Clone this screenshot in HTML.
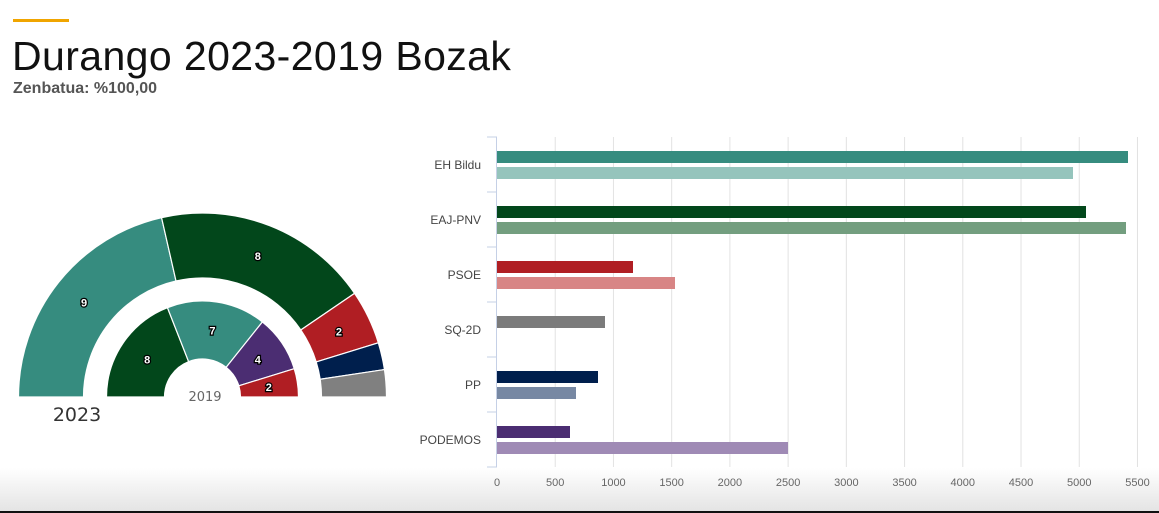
<!DOCTYPE html>
<html><head><meta charset="utf-8"><style>
body{margin:0;width:1159px;height:513px;overflow:hidden;background:#fff;font-family:"Liberation Sans",sans-serif;position:relative}
.bar{position:absolute;height:12px}
</style></head><body>
<div style="position:absolute;left:13px;top:19px;width:56px;height:3px;background:#f0a500"></div>
<div style="position:absolute;left:12px;top:33px;font-size:41px;color:#111;letter-spacing:0.4px">Durango 2023-2019 Bozak</div>
<div style="position:absolute;left:13px;top:80px;font-size:16px;font-weight:bold;color:#555">Zenbatua: %100,00</div>
<div style="position:absolute;left:0;top:468px;width:1159px;height:43px;background:linear-gradient(#fff,#e4e4e4)"></div>
<div style="position:absolute;left:0;top:511px;width:1159px;height:2px;background:#111"></div>
<svg width="1159" height="513" style="position:absolute;left:0;top:0" font-family="Liberation Sans, sans-serif">
<g id="donut" stroke="#fff" stroke-width="1.2"></g>
<text x="77" y="421" font-size="19" fill="#333" text-anchor="middle" font-family="DejaVu Sans, sans-serif">2023</text>
<text x="205" y="401" font-size="13" fill="#666" text-anchor="middle" font-family="DejaVu Sans, sans-serif">2019</text>
<g id="grid"></g>
</svg>
<div id="bars"></div>
<script>
const cx=202.5,cy=397;
function arc(r0,r1,a0,a1,col){const p=a=>[Math.cos(Math.PI-a),-Math.sin(Math.PI-a)];
const [x0,y0]=p(a0),[x1,y1]=p(a1);
return `<path fill="${col}" d="M${cx+r1*x0} ${cy+r1*y0} A${r1} ${r1} 0 0 1 ${cx+r1*x1} ${cy+r1*y1} L${cx+r0*x1} ${cy+r0*y1} A${r0} ${r0} 0 0 0 ${cx+r0*x0} ${cy+r0*y0}Z"/>`;}
function lab(r,a,t){const x=cx+r*Math.cos(Math.PI-a),y=cy-r*Math.sin(Math.PI-a);
return `<text x="${x}" y="${y+4}" font-size="11" font-weight="bold" fill="#fff" stroke="#000" stroke-width="2.5" paint-order="stroke" text-anchor="middle">${t}</text>`;}
let s='';const u=Math.PI/21;
function ring(r0,r1,d){let a=0;d.forEach(([n,c])=>{s+=arc(r0,r1,a,a+n*u,c);if(c!='#001f4d'&&c!='#808080')s+=lab((r0+r1)/2,a+n*u/2,n);a+=n*u;});}
ring(119,184,[[9,'#368c7f'],[8,'#02471b'],[2,'#b01e23'],[1,'#001f4d'],[1,'#808080']]);
ring(38,96,[[8,'#02471b'],[7,'#368c7f'],[4,'#4b2d72'],[2,'#b01e23']]);
document.getElementById('donut').innerHTML=s;
let g='';const X=v=>497+v*0.11645;
for(let i=1;i<=11;i++)g+=`<line x1="${X(i*500)}" y1="137" x2="${X(i*500)}" y2="467" stroke="#e2e2e2"/>`;
g+=`<line x1="496.5" y1="137" x2="496.5" y2="467" stroke="#c5d0e6"/>`;
for(let i=0;i<=6;i++)g+=`<line x1="487" y1="${137+i*55}" x2="497" y2="${137+i*55}" stroke="#c5d0e6"/>`;
for(let i=0;i<=11;i++)g+=`<text x="${X(i*500)}" y="486" font-size="11" fill="#666" text-anchor="middle">${i*500}</text>`;
const d=[['EH Bildu',5421,4948,'#368c7f','#95c4bc'],['EAJ-PNV',5060,5404,'#02471b','#739e7f'],['PSOE',1168,1529,'#b01e23','#d88585'],['SQ-2D',928,null,'#7b7b7b',null],['PP',868,679,'#001f4d','#7788a3'],['PODEMOS',627,2500,'#4b2d72','#9f8ab5']];
let b='';d.forEach((r,i)=>{const t=137+i*55;
g+=`<text x="481" y="${t+32}" font-size="12" fill="#444" text-anchor="end">${r[0]}</text>`;
b+=`<div class="bar" style="left:497px;top:${t+14}px;width:${X(r[1])-497}px;background:${r[3]}"></div>`;
if(r[2])b+=`<div class="bar" style="left:497px;top:${t+30}px;width:${X(r[2])-497}px;background:${r[4]}"></div>`;});
document.getElementById('grid').innerHTML=g;document.getElementById('bars').innerHTML=b;
</script>
</body></html>
